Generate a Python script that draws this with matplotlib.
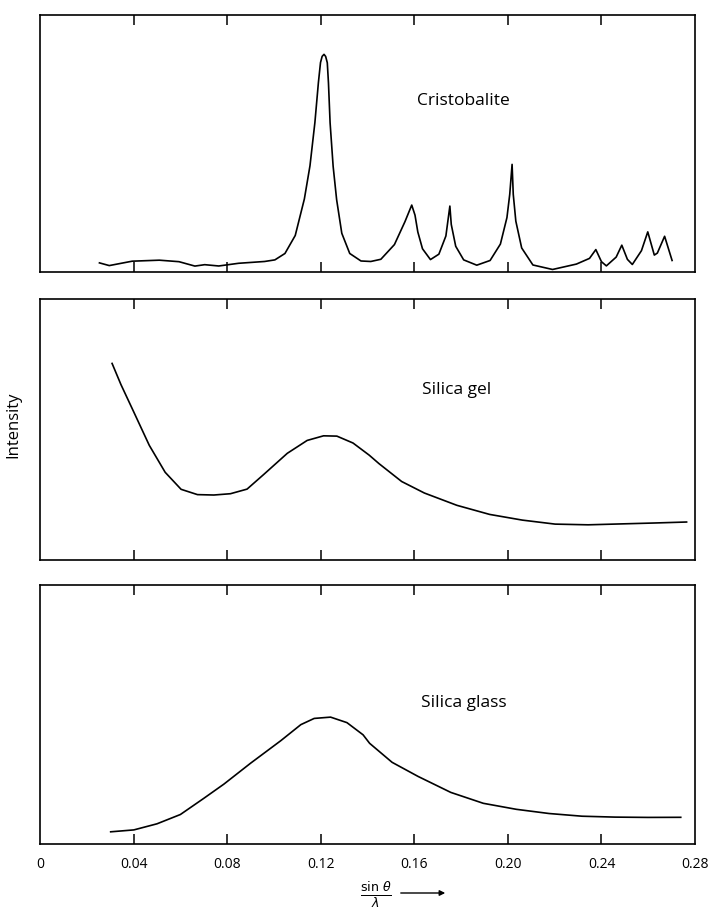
import matplotlib
matplotlib.use("Agg")
import matplotlib.pyplot as plt

plt.rcParams['font.family'] = ['Open Sans', 'DejaVu Sans']

# sin(theta)/lambda values and relative intensities
cristobalite_x = [0.0254, 0.0296, 0.0394, 0.0510, 0.0594, 0.0662, 0.0704, 0.0764, 0.0849,
                  0.0960, 0.1004, 0.1047, 0.1091, 0.1130, 0.1154, 0.1175, 0.1190, 0.1199,
                  0.1206, 0.1214, 0.1221, 0.1228, 0.1233, 0.1240, 0.1253, 0.1268, 0.1290,
                  0.1324, 0.1372, 0.1414, 0.1457, 0.1515, 0.1560, 0.1589, 0.1603, 0.1615,
                  0.1635, 0.1669, 0.1705, 0.1735, 0.1752, 0.1758, 0.1777, 0.1811, 0.1867,
                  0.1924, 0.1968, 0.1996, 0.2008, 0.2018, 0.2023, 0.2034, 0.2059, 0.2107,
                  0.2191, 0.2293, 0.2349, 0.2376, 0.2400, 0.2421, 0.2463, 0.2487, 0.2511,
                  0.2532, 0.2571, 0.2598, 0.2626, 0.2639, 0.2670, 0.2702]
cristobalite_y = [9.1, 6.4, 10.8, 11.8, 10.3, 5.9, 7.3, 6.0, 8.7,
                  10.5, 12.1, 18.5, 36.5, 73.0, 106.2, 149.4, 189.4, 209.4,
                  215.6, 217.6, 215.5, 209.2, 189.1, 149.1, 105.6, 72.2, 38.7,
                  18.5, 11.0, 10.5, 12.7, 27.4, 50.3, 66.9, 56.8, 40.0,
                  23.2, 12.4, 17.8, 36.0, 65.9, 47.5, 25.7, 12.1, 6.8,
                  11.5, 27.9, 54.4, 77.7, 107.6, 77.6, 50.8, 24.0, 7.0,
                  2.5, 7.9, 13.6, 22.4, 10.3, 6.1, 14.9, 26.8, 12.6,
                  7.5, 21.3, 40.1, 16.9, 18.9, 35.7, 11.5]

gel_x = [0.0308, 0.0346, 0.0400, 0.0467, 0.0535, 0.0603, 0.0673, 0.0743, 0.0814, 0.0885,
         0.0956, 0.1057, 0.1142, 0.1212, 0.1269, 0.1338, 0.1407, 0.1449, 0.1546, 0.1643,
         0.1782, 0.1922, 0.2062, 0.2202, 0.2343, 0.2483, 0.2624, 0.2764]
gel_y = [196.6, 175.4, 148.4, 114.7, 87.7, 70.7, 65.4, 65.0, 66.3, 70.9,
         85.5, 106.7, 119.6, 124.2, 123.9, 117.0, 104.9, 96.4, 78.5, 67.0,
         54.7, 45.6, 39.9, 35.9, 35.2, 36.1, 37.0, 38.0]

glass_x = [0.0302, 0.0401, 0.0500, 0.0600, 0.0699, 0.0786, 0.0900, 0.1029, 0.1115, 0.1172,
           0.1242, 0.1312, 0.1381, 0.1409, 0.1505, 0.1616, 0.1756, 0.1895, 0.2036, 0.2176,
           0.2317, 0.2458, 0.2599, 0.2739]
glass_y = [12.2, 14.1, 20.2, 29.5, 45.5, 59.9, 80.8, 103.3, 119.4, 125.6,
           126.9, 121.4, 109.2, 100.7, 81.7, 67.6, 51.6, 40.7, 34.7, 30.5,
           27.8, 26.9, 26.6, 26.7]

tick_values = [0.04, 0.08, 0.12, 0.16, 0.20, 0.24]
label_values = [0, 0.04, 0.08, 0.12, 0.16, 0.20, 0.24, 0.28]
label_text = ['0', '0.04', '0.08', '0.12', '0.16', '0.20', '0.24', '0.28']

panels = [
    (cristobalite_x, cristobalite_y, 'Cristobalite', 0.181, 171, 257, [0.0556, 0.7034, 0.9097, 0.2803]),
    (gel_x, gel_y, 'Silica gel', 0.178, 170, 261, [0.0556, 0.3893, 0.9097, 0.2846]),
    (glass_x, glass_y, 'Silica glass', 0.181, 141, 259, [0.0556, 0.0796, 0.9097, 0.2824]),
]

fig = plt.figure(figsize=(7.2, 9.17), dpi=100)

axes = []
for xs, ys, name, tx, ty, top, rect in panels:
    ax = fig.add_axes(rect)
    ax.plot(xs, ys, color='black', lw=1.2, solid_joinstyle='round')
    ax.set_xlim(0, 0.28)
    ax.set_ylim(0, top)
    ax.set_yticks([])
    ax.xaxis.remove_overlapping_locs = False
    ax.set_xticks(label_values)
    ax.set_xticks(tick_values, minor=True)
    ax.tick_params(axis='x', which='major', length=0, labelsize=10, pad=9)
    ax.tick_params(axis='x', which='minor', direction='in', length=7, width=1.1,
                   top=True, bottom=True)
    ax.set_xticklabels(label_text)
    for s in ax.spines.values():
        s.set_linewidth(1.2)
    ax.text(tx, ty, name, ha='center', va='center', fontsize=12.5)
    axes.append(ax)

for ax in axes[:2]:
    ax.tick_params(axis='x', which='major', labelbottom=False)

fig.text(13 / 720, 1 - 425 / 917, 'Intensity', rotation=90, ha='center', va='center', fontsize=12)
fig.text(376 / 720, 1 - 895 / 917, r'$\frac{\sin\,\theta}{\lambda}$', ha='center', va='center', fontsize=13)
axes[2].annotate('', xy=(448 / 720, 1 - 893 / 917), xytext=(398 / 720, 1 - 893 / 917),
                 xycoords='figure fraction', textcoords='figure fraction',
                 arrowprops=dict(arrowstyle='-|>', color='black', lw=1, mutation_scale=8))

plt.savefig('out.png', dpi=100)
